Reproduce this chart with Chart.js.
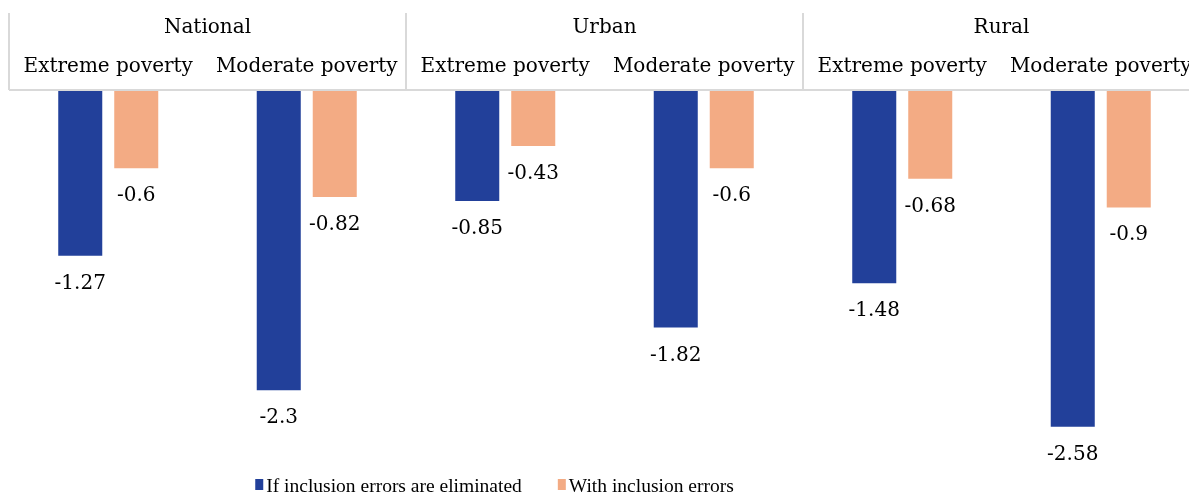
<!DOCTYPE html>
<html>
<head>
<meta charset="utf-8">
<script src="https://cdn.jsdelivr.net/npm/chart.js@4"></script>
<style>
  html, body { margin: 0; padding: 0; background: #ffffff; overflow: hidden; }
  #wrap { width: 1200px; height: 494px; position: relative; }
</style>
</head>
<body>
<div id="wrap"><canvas id="c"></canvas></div>
<script>
const groups = ['National', 'Urban', 'Rural'];
const categories = ['Extreme poverty', 'Moderate poverty', 'Extreme poverty', 'Moderate poverty', 'Extreme poverty', 'Moderate poverty'];
const seriesNames = ['If inclusion errors are eliminated', 'With inclusion errors'];
const eliminated = [-1.27, -2.3, -0.85, -1.82, -1.48, -2.58];
const withErrors = [-0.6, -0.82, -0.43, -0.6, -0.68, -0.9];
const colors = ['#22409A', '#F3AB84'];

const serif = '"DejaVu Serif", serif';

const headerPlugin = {
  id: 'header',
  afterDraw(chart) {
    const ctx = chart.ctx;
    const x = chart.scales.x;
    const area = chart.chartArea;
    const n = categories.length;
    const w = (x.getPixelForValue(n - 1) - x.getPixelForValue(0)) / (n - 1);
    const perGroup = n / groups.length;
    ctx.save();
    ctx.strokeStyle = '#d9d9d9';
    ctx.lineWidth = 2;
    ctx.beginPath();
    ctx.moveTo(x.getPixelForValue(0) - w / 2, area.top);
    ctx.lineTo(x.getPixelForValue(n - 1) + w / 2, area.top);
    ctx.stroke();
    for (let g = 0; g <= groups.length; g++) {
      const px = Math.round(x.getPixelForValue(g * perGroup) - w / 2);
      ctx.beginPath();
      ctx.moveTo(px, 13);
      ctx.lineTo(px, area.top);
      ctx.stroke();
    }
    ctx.fillStyle = '#000000';
    ctx.font = '20px ' + serif;
    ctx.textAlign = 'center';
    ctx.textBaseline = 'alphabetic';
    groups.forEach((gName, g) => {
      const a = x.getPixelForValue(g * perGroup);
      const b = x.getPixelForValue(g * perGroup + perGroup - 1);
      ctx.fillText(gName, (a + b) / 2, 33);
    });
    categories.forEach((c, i) => {
      ctx.fillText(c, x.getPixelForValue(i), 72);
    });
    ctx.restore();
  }
};

const valueLabels = {
  id: 'valueLabels',
  afterDatasetsDraw(chart) {
    const ctx = chart.ctx;
    ctx.save();
    ctx.fillStyle = '#000000';
    ctx.font = '20px ' + serif;
    ctx.textAlign = 'center';
    ctx.textBaseline = 'alphabetic';
    chart.data.datasets.forEach((ds, di) => {
      const meta = chart.getDatasetMeta(di);
      meta.data.forEach((bar, i) => {
        ctx.fillText(String(ds.data[i]), bar.x, bar.y + 33);
      });
    });
    ctx.restore();
  }
};

const customLegend = {
  id: 'customLegend',
  afterDraw(chart) {
    const ctx = chart.ctx;
    ctx.save();
    ctx.font = '19.5px "Liberation Serif", serif';
    ctx.textBaseline = 'alphabetic';
    ctx.textAlign = 'left';
    const boxW = 8, boxH = 11, gapBox = 3, gapItem = 36;
    const widths = seriesNames.map(s => ctx.measureText(s).width);
    let total = 0;
    widths.forEach((tw, i) => { total += boxW + gapBox + tw + (i < widths.length - 1 ? gapItem : 0); });
    let xPos = 494.5 - total / 2;
    const baseY = 492;
    seriesNames.forEach((s, i) => {
      ctx.fillStyle = colors[i];
      ctx.fillRect(xPos, 479, boxW, boxH);
      ctx.fillStyle = '#000000';
      ctx.fillText(s, xPos + boxW + gapBox, baseY);
      xPos += boxW + gapBox + widths[i] + gapItem;
    });
    ctx.restore();
  }
};

new Chart(document.getElementById('c'), {
  type: 'bar',
  data: {
    labels: categories,
    datasets: [
      { label: seriesNames[0], data: eliminated, backgroundColor: colors[0] },
      { label: seriesNames[1], data: withErrors, backgroundColor: colors[1] }
    ]
  },
  options: {
    responsive: true,
    maintainAspectRatio: false,
    animation: false,
    devicePixelRatio: 1,
    layout: { padding: { top: 90, left: 9, right: 0, bottom: 38.6 } },
    datasets: { bar: { categoryPercentage: 0.5642, barPercentage: 0.786 } },
    plugins: { legend: { display: false }, tooltip: { enabled: false } },
    scales: {
      x: { display: false },
      y: { display: false, min: -2.8, max: 0 }
    }
  },
  plugins: [headerPlugin, valueLabels, customLegend]
});
</script>
</body>
</html>
